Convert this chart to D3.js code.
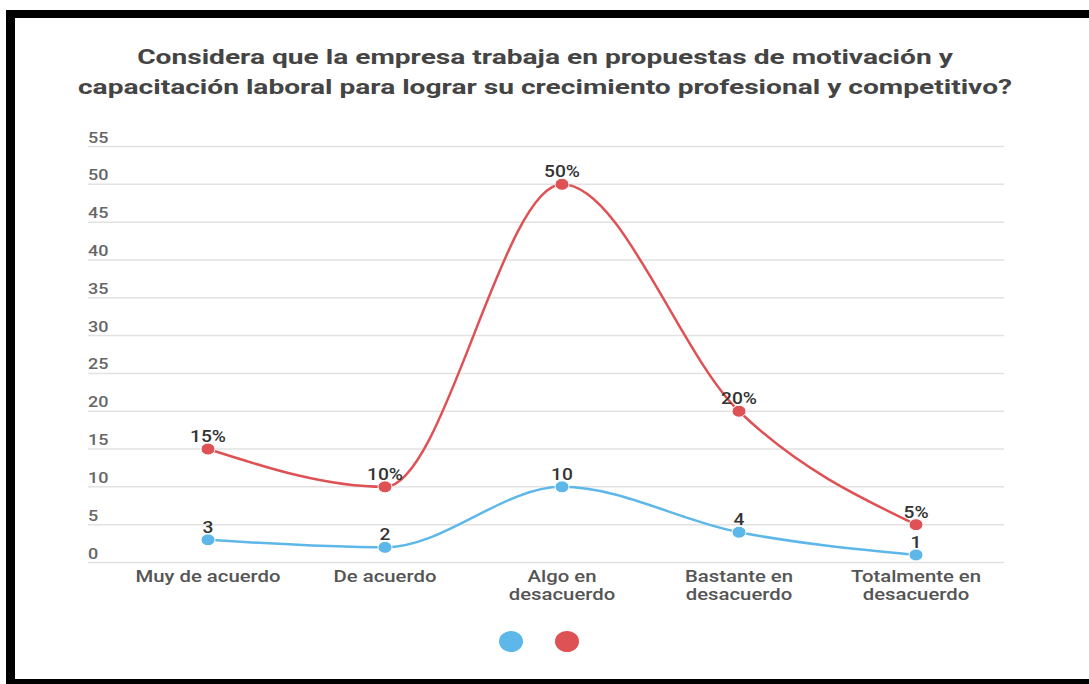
<!DOCTYPE html>
<html>
<head>
<meta charset="utf-8">
<script src="https://cdn.jsdelivr.net/npm/d3@7"></script>
<style>
  html, body { margin: 0; padding: 0; background: #fff; }
  svg { display: block; font-family: Roboto, 'Noto Sans', sans-serif; }
</style>
</head>
<body>
<div id="chart"></div>
<script>
const titleLines = [
  'Considera que la empresa trabaja en propuestas de motivación y',
  'capacitación laboral para lograr su crecimiento profesional y competitivo?'
];
const categories = ['Muy de acuerdo', 'De acuerdo', 'Algo en desacuerdo', 'Bastante en desacuerdo', 'Totalmente en desacuerdo'];
const countValues = [3, 2, 10, 4, 1];
const percentValues = [15, 10, 50, 20, 5];
const yTicks = [0, 5, 10, 15, 20, 25, 30, 35, 40, 45, 50, 55];

(function () {
  const blue = '#5db7e8';
  const red = '#de5154';
  const sx = 1.2; // the reference is stretched sideways a little
  const width = 1089;
  const height = 684;

  function stretch(x, y, k) {
    return 'translate(' + x + ',' + y + ') scale(' + (k || sx) + ',1)';
  }

  // break long category names in two lines
  function wrap(label) {
    const lines = [];
    let cur = '';
    label.split(' ').forEach(function (w) {
      const next = cur ? cur + ' ' + w : w;
      if (next.length > 14 && cur) {
        lines.push(cur);
        cur = w;
      } else {
        cur = next;
      }
    });
    lines.push(cur);
    return lines;
  }

  const svg = d3.select('#chart')
    .append('svg')
    .attr('width', width)
    .attr('height', height);

  // black frame
  svg.append('rect').attr('x', 6).attr('y', 10).attr('width', width - 6).attr('height', 8).attr('fill', '#000');
  svg.append('rect').attr('x', 6).attr('y', 10).attr('width', 9).attr('height', height - 10).attr('fill', '#000');
  svg.append('rect').attr('x', 6).attr('y', 679).attr('width', width - 6).attr('height', 5).attr('fill', '#000');

  // title
  svg.selectAll('text.title')
    .data(titleLines)
    .enter()
    .append('text')
    .attr('class', 'title')
    .attr('transform', function (d, i) { return stretch(545, 64 + i * 30, 1.34); })
    .style('text-anchor', 'middle')
    .style('font-size', '21px')
    .style('font-weight', 'bold')
    .style('fill', '#444')
    .text(function (d) { return d; });

  const x = d3.scalePoint()
    .domain(categories)
    .range([119.5, 1004.5])
    .padding(0.5);

  const y = d3.scaleLinear()
    .domain([0, 55])
    .range([562.5, 146.5]);

  // grid lines
  const grid = svg.append('g').attr('class', 'grid');

  grid.selectAll('line')
    .data(yTicks)
    .enter()
    .append('line')
    .attr('x1', 88)
    .attr('x2', 1004)
    .attr('y1', function (d) { return y(d); })
    .attr('y2', function (d) { return y(d); })
    .attr('stroke', '#e2e2e2')
    .attr('stroke-width', 1.5);

  grid.selectAll('text')
    .data(yTicks)
    .enter()
    .append('text')
    .attr('transform', function (d) { return stretch(88, y(d) - 4); })
    .style('font-size', '15px')
    .style('font-weight', 500)
    .style('fill', '#666')
    .text(function (d) { return d; });

  // x labels
  const xLabels = svg.append('g').attr('class', 'x-labels');

  xLabels.selectAll('g')
    .data(categories)
    .enter()
    .append('g')
    .each(function (d) {
      d3.select(this).selectAll('text')
        .data(wrap(d))
        .enter()
        .append('text')
        .attr('transform', function (t, i) { return stretch(x(d), 582 + i * 18, 1.27); })
        .style('text-anchor', 'middle')
        .style('font-size', '16px')
        .style('font-weight', 500)
        .style('fill', '#555')
        .text(function (t) { return t; });
    });

  const line = d3.line()
    .x(function (d, i) { return x(categories[i]); })
    .y(function (d) { return y(d); })
    .curve(d3.curveMonotoneX);

  const series = [
    { values: percentValues, color: red, suffix: '%' },
    { values: countValues, color: blue, suffix: '' }
  ];

  series.forEach(function (s) {
    const g = svg.append('g').attr('class', 'series');

    g.append('path')
      .datum(s.values)
      .attr('fill', 'none')
      .attr('stroke', s.color)
      .attr('stroke-width', 2.5)
      .attr('stroke-linejoin', 'round')
      .attr('d', line);

    g.selectAll('ellipse')
      .data(s.values)
      .enter()
      .append('ellipse')
      .attr('cx', function (d, i) { return x(categories[i]); })
      .attr('cy', function (d) { return y(d); })
      .attr('rx', 7)
      .attr('ry', 6)
      .attr('fill', s.color)
      .attr('stroke', '#fff')
      .attr('stroke-width', 1);

    g.selectAll('text')
      .data(s.values)
      .enter()
      .append('text')
      .attr('transform', function (d, i) { return stretch(x(categories[i]), y(d) - 7); })
      .style('text-anchor', 'middle')
      .style('font-size', '16px')
      .style('font-weight', 500)
      .style('fill', '#333')
      .text(function (d) { return d + s.suffix; });
  });

  // legend (no names in the source)
  svg.selectAll('ellipse.legend')
    .data([blue, red])
    .enter()
    .append('ellipse')
    .attr('class', 'legend')
    .attr('cx', function (d, i) { return 511 + i * 56; })
    .attr('cy', 641.5)
    .attr('rx', 12)
    .attr('ry', 10.5)
    .attr('fill', function (d) { return d; });
}());
</script>
</body>
</html>
